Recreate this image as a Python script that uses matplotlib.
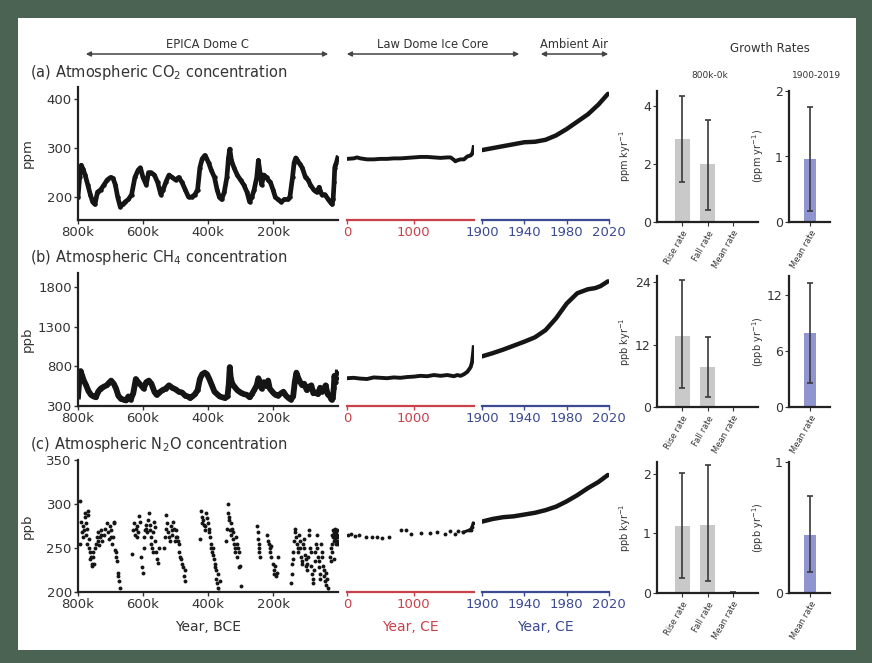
import matplotlib
matplotlib.use("Agg")
import matplotlib.pyplot as plt
from matplotlib.patches import Rectangle, FancyArrowPatch
import numpy as np

# ---------------- data ----------------
# EPICA Dome C CO2 (age kyr BP, ppm)
co2_epica_age = [800, 795, 790, 785, 778, 770, 762, 755, 748, 740, 730, 720, 710, 700, 692, 685, 678, 670,
                 662, 655, 645, 635, 625, 615, 608, 600, 590, 583, 575, 565, 555, 545, 538, 530, 520, 510,
                 500, 490, 480, 470, 460, 450, 440, 432, 425, 418, 410, 405, 398, 390, 380, 372, 365, 358,
                 350, 342, 337, 333, 328, 320, 310, 300, 290, 280, 272, 265, 258, 250, 245, 240, 235, 228,
                 220, 215, 208, 200, 193, 185, 175, 165, 155, 148, 140, 135, 130, 125, 118, 110, 100, 92,
                 85, 75, 66, 58, 50, 40, 30, 22, 18, 15, 12, 10, 8, 5, 3, 1]
co2_epica_val = [200, 240, 265, 258, 245, 225, 205, 190, 185, 210, 215, 225, 235, 240, 238, 225, 200, 180,
                 185, 190, 195, 205, 240, 255, 260, 240, 225, 250, 250, 245, 230, 205, 215, 230, 245, 240,
                 235, 240, 230, 215, 200, 200, 205, 215, 260, 278, 285, 280, 270, 255, 240, 215, 200, 195,
                 210, 240, 280, 298, 275, 260, 245, 235, 225, 210, 190, 200, 215, 240, 275, 250, 225, 245,
                 240, 235, 230, 215, 200, 195, 190, 195, 195, 200, 240, 270, 280, 275, 268, 260, 240, 235,
                 225, 215, 210, 220, 205, 205, 195, 188, 185, 195, 230, 260, 265, 270, 275, 280]

# Law Dome CO2 (year CE, ppm)
co2_law_year = [0, 100, 150, 200, 300, 400, 500, 600, 700, 800, 900, 1000, 1100, 1200, 1300, 1400, 1500,
                1550, 1600, 1620, 1650, 1700, 1750, 1800, 1850, 1870, 1885, 1895]
co2_law_val = [278, 279, 281, 279, 277, 277, 278, 278, 279, 279, 280, 281, 282, 282, 281, 280, 281,
               281, 276, 273, 275, 277, 277, 283, 285, 288, 294, 302]

# Ambient air CO2 (year CE, ppm)
co2_air_year = [1900, 1910, 1920, 1930, 1940, 1950, 1960, 1970, 1980, 1990, 2000, 2010, 2019]
co2_air_val = [296, 300, 304, 308, 312, 313, 317, 326, 339, 354, 369, 389, 411]

# EPICA Dome C CH4 (age kyr BP, ppb)
ch4_epica_age = [800, 796, 792, 788, 782, 775, 768, 760, 752, 745, 738, 730, 722, 712, 705, 698, 690, 683,
                 676, 668, 660, 652, 645, 638, 630, 622, 615, 606, 598, 590, 582, 574, 565, 558, 550, 540,
                 530, 520, 510, 500, 490, 480, 470, 462, 455, 448, 440, 432, 425, 418, 410, 403, 396, 388,
                 380, 372, 364, 356, 348, 340, 336, 333, 330, 325, 318, 310, 300, 290, 280, 272, 265, 258,
                 250, 245, 240, 235, 228, 220, 215, 210, 200, 192, 185, 175, 168, 160, 152, 145, 138, 133,
                 128, 122, 116, 110, 104, 96, 90, 82, 76, 70, 62, 55, 50, 45, 38, 32, 25, 20, 16, 13, 11,
                 9, 6, 3, 1]
ch4_epica_val = [420, 620, 740, 690, 620, 560, 490, 440, 420, 410, 480, 520, 540, 560, 590, 620, 580, 520,
                 430, 390, 380, 370, 420, 380, 460, 640, 600, 560, 520, 600, 620, 580, 480, 440, 470, 500,
                 520, 560, 530, 510, 480, 470, 430, 420, 400, 420, 450, 500, 640, 700, 720, 700, 640, 560,
                 480, 450, 420, 410, 400, 420, 580, 790, 650, 580, 540, 500, 470, 450, 440, 410, 450, 500,
                 560, 650, 600, 520, 600, 550, 620, 520, 470, 440, 430, 460, 480, 430, 400, 380, 420, 600,
                 720, 650, 600, 560, 580, 500, 540, 560, 460, 470, 450, 530, 480, 500, 560, 450, 420, 380,
                 400, 530, 680, 640, 600, 650, 720]

# Law Dome CH4 (year CE, ppb)
ch4_law_year = [0, 100, 200, 300, 400, 500, 600, 700, 800, 900, 1000, 1100, 1200, 1300, 1400, 1500, 1600,
                1650, 1700, 1750, 1800, 1850, 1870, 1885, 1895]
ch4_law_val = [650, 655, 645, 640, 660, 655, 650, 660, 655, 665, 670, 680, 675, 690, 680, 690, 675,
               690, 680, 700, 730, 790, 850, 950, 1040]

# Ambient air CH4 (year CE, ppb)
ch4_air_year = [1900, 1910, 1920, 1930, 1940, 1950, 1960, 1970, 1980, 1990, 2000, 2007, 2012, 2019]
ch4_air_val = [925, 965, 1010, 1060, 1110, 1165, 1255, 1405, 1590, 1720, 1770, 1785, 1810, 1870]

# EPICA Dome C N2O (age kyr BP, ppb)
n2o_epica_age = [795, 793, 790, 788, 786, 784, 782, 780, 778, 776, 775, 773, 771, 770, 768, 767, 765, 763,
                 762, 760, 758, 756, 755, 753, 752, 748, 745, 742, 740, 738, 735, 733, 730, 728, 726,
                 720, 716, 712, 708, 705, 702, 700, 697, 695, 692, 690, 688, 686, 684, 682, 680, 678, 676,
                 674, 672, 635, 630, 627, 625, 622, 620, 617, 615, 612, 610, 605, 603, 600, 598, 596, 594,
                 592, 590, 588, 585, 583, 580, 578, 576, 574, 572, 570, 568, 566, 564, 562, 560, 558, 555,
                 552, 535, 532, 530, 528, 525, 522, 520, 518, 515, 512, 510, 507, 505, 502, 500, 498, 495,
                 492, 490, 488, 485, 482, 480, 478, 475, 472, 470, 425, 422, 420, 418, 415, 412, 410, 408,
                 405, 402, 400, 398, 396, 394, 392, 390, 388, 386, 384, 382, 380, 378, 376, 374, 372, 370,
                 368, 366, 364, 345, 343, 340, 338, 336, 334, 332, 330, 328, 326, 324, 322, 320, 318, 316,
                 314, 312, 310, 308, 306, 304, 302, 300, 248, 246, 245, 244, 243, 242, 240, 218, 215, 212,
                 210, 208, 206, 205, 200, 198, 196, 193, 190, 188, 185, 145, 143, 141, 140, 138, 135, 133,
                 131, 128, 126, 124, 122, 120, 118, 116, 114, 112, 110, 108, 106, 104, 102, 100, 98, 96,
                 94, 92, 90, 88, 86, 84, 82, 80, 78, 76, 74, 72, 70, 68, 66, 64, 62, 60, 58, 56, 54, 52,
                 50, 48, 46, 44, 42, 40, 38, 36, 34, 32, 30, 24, 23, 22, 20, 18, 17, 16, 14, 13, 12, 11,
                 10, 9, 8, 7, 6, 5, 4, 3, 2, 1, 0.5]
n2o_epica_val = [255, 303, 280, 268, 275, 262, 270, 285, 290, 278, 265, 255, 272, 288, 292, 260, 250, 245,
                 238, 240, 232, 230, 245, 240, 232, 250, 255, 262, 268, 258, 253, 262, 270, 265, 258,
                 265, 272, 278, 268, 260, 275, 270, 262, 255, 262, 278, 280, 248, 240, 245, 235, 222, 218,
                 212, 205, 243, 270, 278, 265, 272, 275, 262, 268, 286, 280, 240, 228, 222, 250, 262, 270,
                 276, 272, 268, 282, 290, 276, 270, 262, 255, 250, 245, 268, 280, 274, 258, 245, 238, 233,
                 250, 250, 262, 272, 288, 278, 268, 262, 258, 275, 270, 265, 280, 272, 258, 262, 270, 262,
                 258, 255, 245, 240, 238, 232, 228, 218, 212, 225, 260, 292, 285, 278, 282, 276, 270, 275,
                 290, 284, 278, 272, 268, 262, 250, 255, 245, 250, 242, 238, 228, 232, 225, 215, 210, 220,
                 205, 200, 212, 258, 272, 300, 290, 282, 285, 270, 278, 265, 272, 260, 268, 255, 250, 245,
                 262, 255, 240, 250, 245, 228, 230, 207, 275, 268, 260, 255, 250, 245, 240, 265, 258, 255,
                 250, 245, 252, 240, 232, 225, 220, 230, 218, 222, 240, 210, 220, 232, 238, 245, 258, 268,
                 272, 262, 255, 250, 245, 265, 258, 250, 240, 235, 232, 255, 260, 250, 242, 238, 230, 225,
                 232, 240, 270, 265, 250, 245, 230, 220, 215, 210, 225, 235, 245, 255, 265, 250, 240, 235,
                 228, 220, 215, 255, 245, 240, 230, 225, 218, 212, 208, 222, 215, 205, 200, 240, 235, 250,
                 255, 265, 245, 270, 262, 238, 258, 268, 272, 265, 260, 255, 262, 268, 258, 265, 270, 262,
                 255]

# Law Dome N2O (year CE, ppb)
n2o_law_year = [10, 60, 120, 180, 280, 380, 450, 530, 630, 810, 885, 960, 1110, 1240, 1340, 1465, 1540,
                1615, 1667, 1740, 1818, 1850, 1870, 1890]
n2o_law_val = [265, 266, 264, 265, 263, 262, 262, 261, 262, 270, 271, 266, 267, 267, 268, 266, 269,
               266, 269, 268, 270, 271, 274, 278]

# Ambient air N2O (year CE, ppb)
n2o_air_year = [1900, 1910, 1920, 1930, 1940, 1950, 1960, 1970, 1980, 1990, 2000, 2010, 2019]
n2o_air_val = [280, 283, 285, 286, 288, 290, 293, 297, 303, 310, 318, 325, 333]

# Growth rates
rate_cats = ["Rise rate", "Fall rate", "Mean rate"]
co2_rates = [2.85, 2.0, 0.0]
co2_rates_lo = [1.38, 0.42, 0.0]
co2_rates_hi = [4.34, 3.5, 0.0]
ch4_rates = [13.7, 7.7, 0.0]
ch4_rates_lo = [3.7, 1.9, 0.0]
ch4_rates_hi = [24.4, 13.5, 0.0]
n2o_rates = [1.12, 1.15, 0.01]
n2o_rates_lo = [0.25, 0.2, 0.0]
n2o_rates_hi = [2.02, 2.15, 0.02]

modern_cat = ["Mean rate"]
co2_modern = [0.96]
co2_modern_lo = [0.17]
co2_modern_hi = [1.75]
ch4_modern = [7.9]
ch4_modern_lo = [2.6]
ch4_modern_hi = [13.3]
n2o_modern = [0.44]
n2o_modern_lo = [0.16]
n2o_modern_hi = [0.74]

# ---------------- style ----------------
W, H = 872, 663
fig = plt.figure(figsize=(W / 100, H / 100), dpi=100)
fig.patch.set_facecolor('#4b6352')
fig.patches.append(Rectangle((18 / W, 1 - 650 / H), (856 - 18) / W, (650 - 18) / H,
                             transform=fig.transFigure, facecolor='white', edgecolor='none', zorder=-10))

RED = '#c8414b'
BLUE = '#3b4a91'
DOT = '#151515'
TXT = '#333333'
GRAY_BAR = '#c9c9c9'
BLUE_BAR = '#9095cf'


def fax(x0, y0, x1, y1):
    a = fig.add_axes([x0 / W, 1 - y1 / H, (x1 - x0) / W, (y1 - y0) / H])
    a.patch.set_alpha(0)
    return a


rows = [
    dict(top=87, bot=220, btop=91, bbot=222,
         ep=(co2_epica_age, co2_epica_val), law=(co2_law_year, co2_law_val), air=(co2_air_year, co2_air_val),
         ylim=(153, 425), yticks=[200, 300, 400], ylabel='ppm', eplw=3.4,
         title='(a) Atmospheric CO$_2$ concentration',
         rates=(co2_rates, co2_rates_lo, co2_rates_hi), rlim=(0, 4.5), rticks=[0, 2, 4], rlabel='ppm kyr$^{-1}$',
         mod=(co2_modern, co2_modern_lo, co2_modern_hi), mlim=(0, 2), mticks=[0, 1, 2], mlabel='(ppm yr$^{-1}$)',
         scatter=False),
    dict(top=273, bot=406, btop=276, bbot=407,
         ep=(ch4_epica_age, ch4_epica_val), law=(ch4_law_year, ch4_law_val), air=(ch4_air_year, ch4_air_val),
         ylim=(300, 1975), yticks=[300, 800, 1300, 1800], ylabel='ppb', eplw=4.2,
         title='(b) Atmospheric CH$_4$ concentration',
         rates=(ch4_rates, ch4_rates_lo, ch4_rates_hi), rlim=(0, 25.2), rticks=[0, 12, 24], rlabel='ppb kyr$^{-1}$',
         mod=(ch4_modern, ch4_modern_lo, ch4_modern_hi), mlim=(0, 14.05), mticks=[0, 6, 12], mlabel='(ppb yr$^{-1}$)',
         scatter=False),
    dict(top=460, bot=592, btop=462, bbot=593,
         ep=(n2o_epica_age, n2o_epica_val), law=(n2o_law_year, n2o_law_val), air=(n2o_air_year, n2o_air_val),
         ylim=(200, 350), yticks=[200, 250, 300, 350], ylabel='ppb', eplw=0,
         title='(c) Atmospheric N$_2$O concentration',
         rates=(n2o_rates, n2o_rates_lo, n2o_rates_hi), rlim=(0, 2.2), rticks=[0, 1, 2], rlabel='ppb kyr$^{-1}$',
         mod=(n2o_modern, n2o_modern_lo, n2o_modern_hi), mlim=(0, 1), mticks=[0, 1], mlabel='(ppb yr$^{-1}$)',
         scatter=True),
]

TICK_FS = 9.5
for i, r in enumerate(rows):
    last = (i == 2)
    # EPICA
    ax = fax(78, r['top'], 338, r['bot'])
    if r['scatter']:
        ax.plot(r['ep'][0], r['ep'][1], 'o', ms=2.8, color=DOT, mec='none')
    else:
        ax.plot(r['ep'][0], r['ep'][1], '-', lw=r['eplw'], color=DOT, solid_joinstyle='round')
        ax.plot(r['ep'][0], r['ep'][1], 'o', ms=3.2, color=DOT, mec='none')
    ax.set_xlim(800, 0)
    ax.set_ylim(*r['ylim'])
    ax.set_xticks([800, 600, 400, 200])
    ax.set_xticklabels(['800k', '600k', '400k', '200k'])
    ax.set_yticks(r['yticks'])
    for s in ['top', 'right']:
        ax.spines[s].set_visible(False)
    for s in ['left', 'bottom']:
        ax.spines[s].set_linewidth(1.6)
        ax.spines[s].set_color('#222222')
    ax.tick_params(labelsize=TICK_FS, colors=TXT, length=3, width=1, pad=1.5)
    ax.set_ylabel(r['ylabel'], fontsize=9.5, color=TXT)
    ax.yaxis.set_label_coords(-0.17, 0.5)
    fig.text(30 / W, 1 - (r['top'] - 15) / H, r['title'],
             fontsize=10.5, color=TXT, va='center', ha='left')
    if last:
        ax.set_xlabel('Year, BCE', fontsize=10, color=TXT, labelpad=6)

    # Law Dome
    axl = fax(347, r['top'], 474, r['bot'])
    if r['scatter']:
        axl.plot(r['law'][0], r['law'][1], 'o', ms=2.8, color=DOT, mec='none')
        axl.plot(r['law'][0][-5:], r['law'][1][-5:], '-', lw=2.2, color=DOT)
    else:
        axl.plot(r['law'][0], r['law'][1], '-', lw=2.8, color=DOT)
    axl.set_xlim(0, 1900)
    axl.set_ylim(*r['ylim'])
    axl.set_xticks([0, 1000])
    axl.set_yticks([])
    for s in ['top', 'right', 'left']:
        axl.spines[s].set_visible(False)
    axl.spines['bottom'].set_color(RED)
    axl.spines['bottom'].set_linewidth(1.6)
    axl.tick_params(axis='x', labelsize=TICK_FS, colors=RED, length=3, width=1, pad=1.5)
    if last:
        axl.set_xlabel('Year, CE', fontsize=10, color=RED, labelpad=6)

    # Ambient air
    axa = fax(482, r['top'], 609, r['bot'])
    axa.plot(r['air'][0], r['air'][1], '-', lw=3.2, color=DOT, solid_capstyle='round')
    axa.set_xlim(1900, 2020)
    axa.set_ylim(*r['ylim'])
    axa.set_xticks([1900, 1940, 1980, 2020])
    axa.set_yticks([])
    for s in ['top', 'right', 'left']:
        axa.spines[s].set_visible(False)
    axa.spines['bottom'].set_color(BLUE)
    axa.spines['bottom'].set_linewidth(1.6)
    axa.tick_params(axis='x', labelsize=TICK_FS, colors=BLUE, length=3, width=1, pad=1.5)
    if last:
        axa.set_xlabel('Year, CE', fontsize=10, color=BLUE, labelpad=6)

    # Growth rates (800k-0k)
    axb = fax(657, r['btop'], 758, r['bbot'])
    v, lo, hi = r['rates']
    xs = np.arange(len(rate_cats))
    yerr = [np.array(v) - np.array(lo), np.array(hi) - np.array(v)]
    axb.bar(xs, v, width=0.6, color=GRAY_BAR)
    axb.errorbar(xs, v, yerr=yerr, fmt='none', ecolor='#3a3a3a', elinewidth=1.2, capsize=2.5, capthick=1.2)
    axb.set_xlim(-1, 3)
    axb.set_ylim(*r['rlim'])
    axb.set_yticks(r['rticks'])
    axb.set_xticks(xs)
    axb.set_xticklabels(rate_cats, rotation=60, ha='right', rotation_mode='anchor', fontsize=6, color=TXT)
    for s in ['top', 'right']:
        axb.spines[s].set_visible(False)
    for s in ['left', 'bottom']:
        axb.spines[s].set_linewidth(1.6)
        axb.spines[s].set_color('#222222')
    axb.tick_params(axis='y', labelsize=9, colors=TXT, length=3, pad=1.5)
    axb.tick_params(axis='x', length=3, pad=2, colors=TXT)
    axb.set_ylabel(r['rlabel'], fontsize=7, color=TXT)
    axb.yaxis.set_label_coords(-0.235, 0.5)

    # Growth rates (1900-2019)
    axm = fax(789, r['btop'], 830, r['bbot'])
    v, lo, hi = r['mod']
    xs = np.arange(len(modern_cat))
    yerr = [np.array(v) - np.array(lo), np.array(hi) - np.array(v)]
    axm.bar(xs, v, width=0.6, color=BLUE_BAR)
    axm.errorbar(xs, v, yerr=yerr, fmt='none', ecolor='#3a3a3a', elinewidth=1.2, capsize=2.5, capthick=1.2)
    axm.set_xlim(-1.05, 1.0)
    axm.set_ylim(*r['mlim'])
    axm.set_yticks(r['mticks'])
    axm.set_xticks(xs)
    axm.set_xticklabels(modern_cat, rotation=60, ha='right', rotation_mode='anchor', fontsize=6, color=TXT)
    for s in ['top', 'right']:
        axm.spines[s].set_visible(False)
    for s in ['left', 'bottom']:
        axm.spines[s].set_linewidth(1.6)
        axm.spines[s].set_color('#222222')
    axm.tick_params(axis='y', labelsize=9, colors=TXT, length=3, pad=1.5)
    axm.tick_params(axis='x', length=3, pad=2, colors=TXT)
    axm.set_ylabel(r['mlabel'], fontsize=7, color=TXT)
    axm.yaxis.set_label_coords(-0.55, 0.5)

# Header labels and arrows
headers = [("EPICA Dome C", 83, 331), ("Law Dome Ice Core", 344, 522), ("Ambient Air", 538, 611)]
for label, x0, x1 in headers:
    fig.text((x0 + x1) / 2 / W, 1 - 44 / H, label, fontsize=8.3, color=TXT, ha='center', va='center')
    fig.add_artist(FancyArrowPatch(
        (x0 / W, 1 - 54 / H), (x1 / W, 1 - 54 / H), transform=fig.transFigure,
        arrowstyle='<|-|>', mutation_scale=7, lw=1.1, color='#444444'))

fig.text(770 / W, 1 - 48 / H, "Growth Rates", fontsize=8.5, color=TXT, ha='center', va='center')
fig.text(710 / W, 1 - 75 / H, "800k-0k", fontsize=6.5, color=TXT, ha='center', va='center')
fig.text(817 / W, 1 - 75 / H, "1900-2019", fontsize=6.5, color=TXT, ha='center', va='center')

fig.savefig('out.png', dpi=100, facecolor=fig.get_facecolor())
